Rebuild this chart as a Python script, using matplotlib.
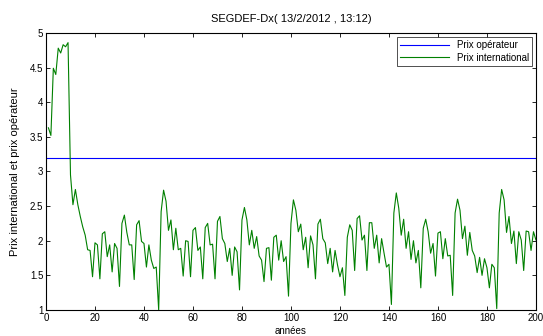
import matplotlib.pyplot as plt
import numpy as np

plt.rcParams['font.family'] = ['Liberation Sans', 'DejaVu Sans']

titre = "SEGDEF-Dx( 13/2/2012 , 13:12)"
prix_operateur = 3.19
prix_international = [
    3.63, 3.52, 4.49, 4.40, 4.78, 4.71, 4.83, 4.80, 4.86, 2.95,
    2.52, 2.74, 2.52, 2.35, 2.20, 2.08, 1.87, 1.86, 1.48, 1.97,
    1.94, 1.45, 2.10, 2.13, 1.77, 1.94, 1.55, 1.96, 1.89, 1.34,
    2.25, 2.37, 2.12, 1.94, 1.94, 1.44, 2.23, 2.29, 1.99, 1.96,
    1.62, 1.94, 1.72, 1.60, 1.62, 1.00, 2.42, 2.73, 2.57, 2.15,
    2.30, 1.87, 2.18, 1.87, 1.89, 1.49, 2.00, 1.99, 1.48, 2.15,
    2.19, 1.86, 1.91, 1.45, 2.19, 2.25, 1.94, 1.95, 1.45, 2.28,
    2.35, 2.03, 1.96, 1.70, 1.89, 1.50, 1.91, 1.84, 1.29, 2.30,
    2.48, 2.30, 1.94, 2.15, 1.89, 2.06, 1.78, 1.72, 1.41, 1.89,
    1.90, 1.43, 2.05, 2.08, 1.72, 2.00, 1.70, 1.77, 1.20, 2.25,
    2.59, 2.44, 2.13, 2.24, 1.87, 2.05, 1.61, 2.07, 1.94, 1.45,
    2.24, 2.31, 2.03, 1.97, 1.67, 1.89, 1.55, 1.86, 1.65, 1.48,
    1.61, 1.21, 2.05, 2.23, 2.15, 1.57, 2.32, 2.36, 2.01, 2.08,
    1.57, 2.26, 2.26, 1.89, 2.08, 1.68, 2.03, 1.82, 1.62, 1.66,
    1.08, 2.40, 2.69, 2.47, 2.08, 2.31, 1.89, 2.13, 1.73, 2.00,
    1.68, 1.86, 1.32, 2.18, 2.31, 2.13, 1.82, 1.96, 1.49, 2.11,
    2.13, 1.74, 2.03, 1.78, 1.79, 1.21, 2.40, 2.60, 2.44, 2.03,
    2.21, 1.79, 2.12, 1.86, 1.78, 1.54, 1.76, 1.50, 1.74, 1.61,
    1.32, 1.66, 1.61, 1.02, 2.40, 2.74, 2.59, 2.12, 2.35, 1.96,
    2.14, 1.67, 2.13, 2.01, 1.57, 2.14, 2.13, 1.86, 2.13, 2.01,
]
annees = np.arange(1, len(prix_international) + 1)

fig = plt.figure(figsize=(5.43, 3.36), dpi=100)
ax = fig.add_axes([0.0847, 0.0774, 0.9023, 0.8246])

ax.plot([0, 200], [prix_operateur, prix_operateur], color='#0000ff', lw=0.8,
        label='Prix opérateur')
ax.plot(annees, prix_international, color='#008000', lw=0.8,
        label='Prix international')

ax.set_xlim(0, 200)
ax.set_ylim(1, 5)
ax.set_xticks(np.arange(0, 201, 20))
ax.set_yticks(np.arange(1, 5.01, 0.5))
ax.set_yticklabels(['1', '1.5', '2', '2.5', '3', '3.5', '4', '4.5', '5'])
ax.tick_params(direction='in', top=True, right=True, labelsize=7, length=3,
               width=0.6, pad=2)
for s in ax.spines.values():
    s.set_linewidth(0.8)

ax.set_title(titre, fontsize=8, pad=8)
ax.set_xlabel('années', fontsize=7, labelpad=2)
ax.set_ylabel('Prix international et prix opérateur', fontsize=8, labelpad=7)

leg = ax.legend(loc='upper right', fontsize=7, frameon=True, fancybox=False,
                edgecolor='black', borderpad=0.35, handlelength=5,
                labelspacing=0.25, borderaxespad=0.4)
leg.get_frame().set_linewidth(0.6)

fig.savefig('out.png', dpi=100)
